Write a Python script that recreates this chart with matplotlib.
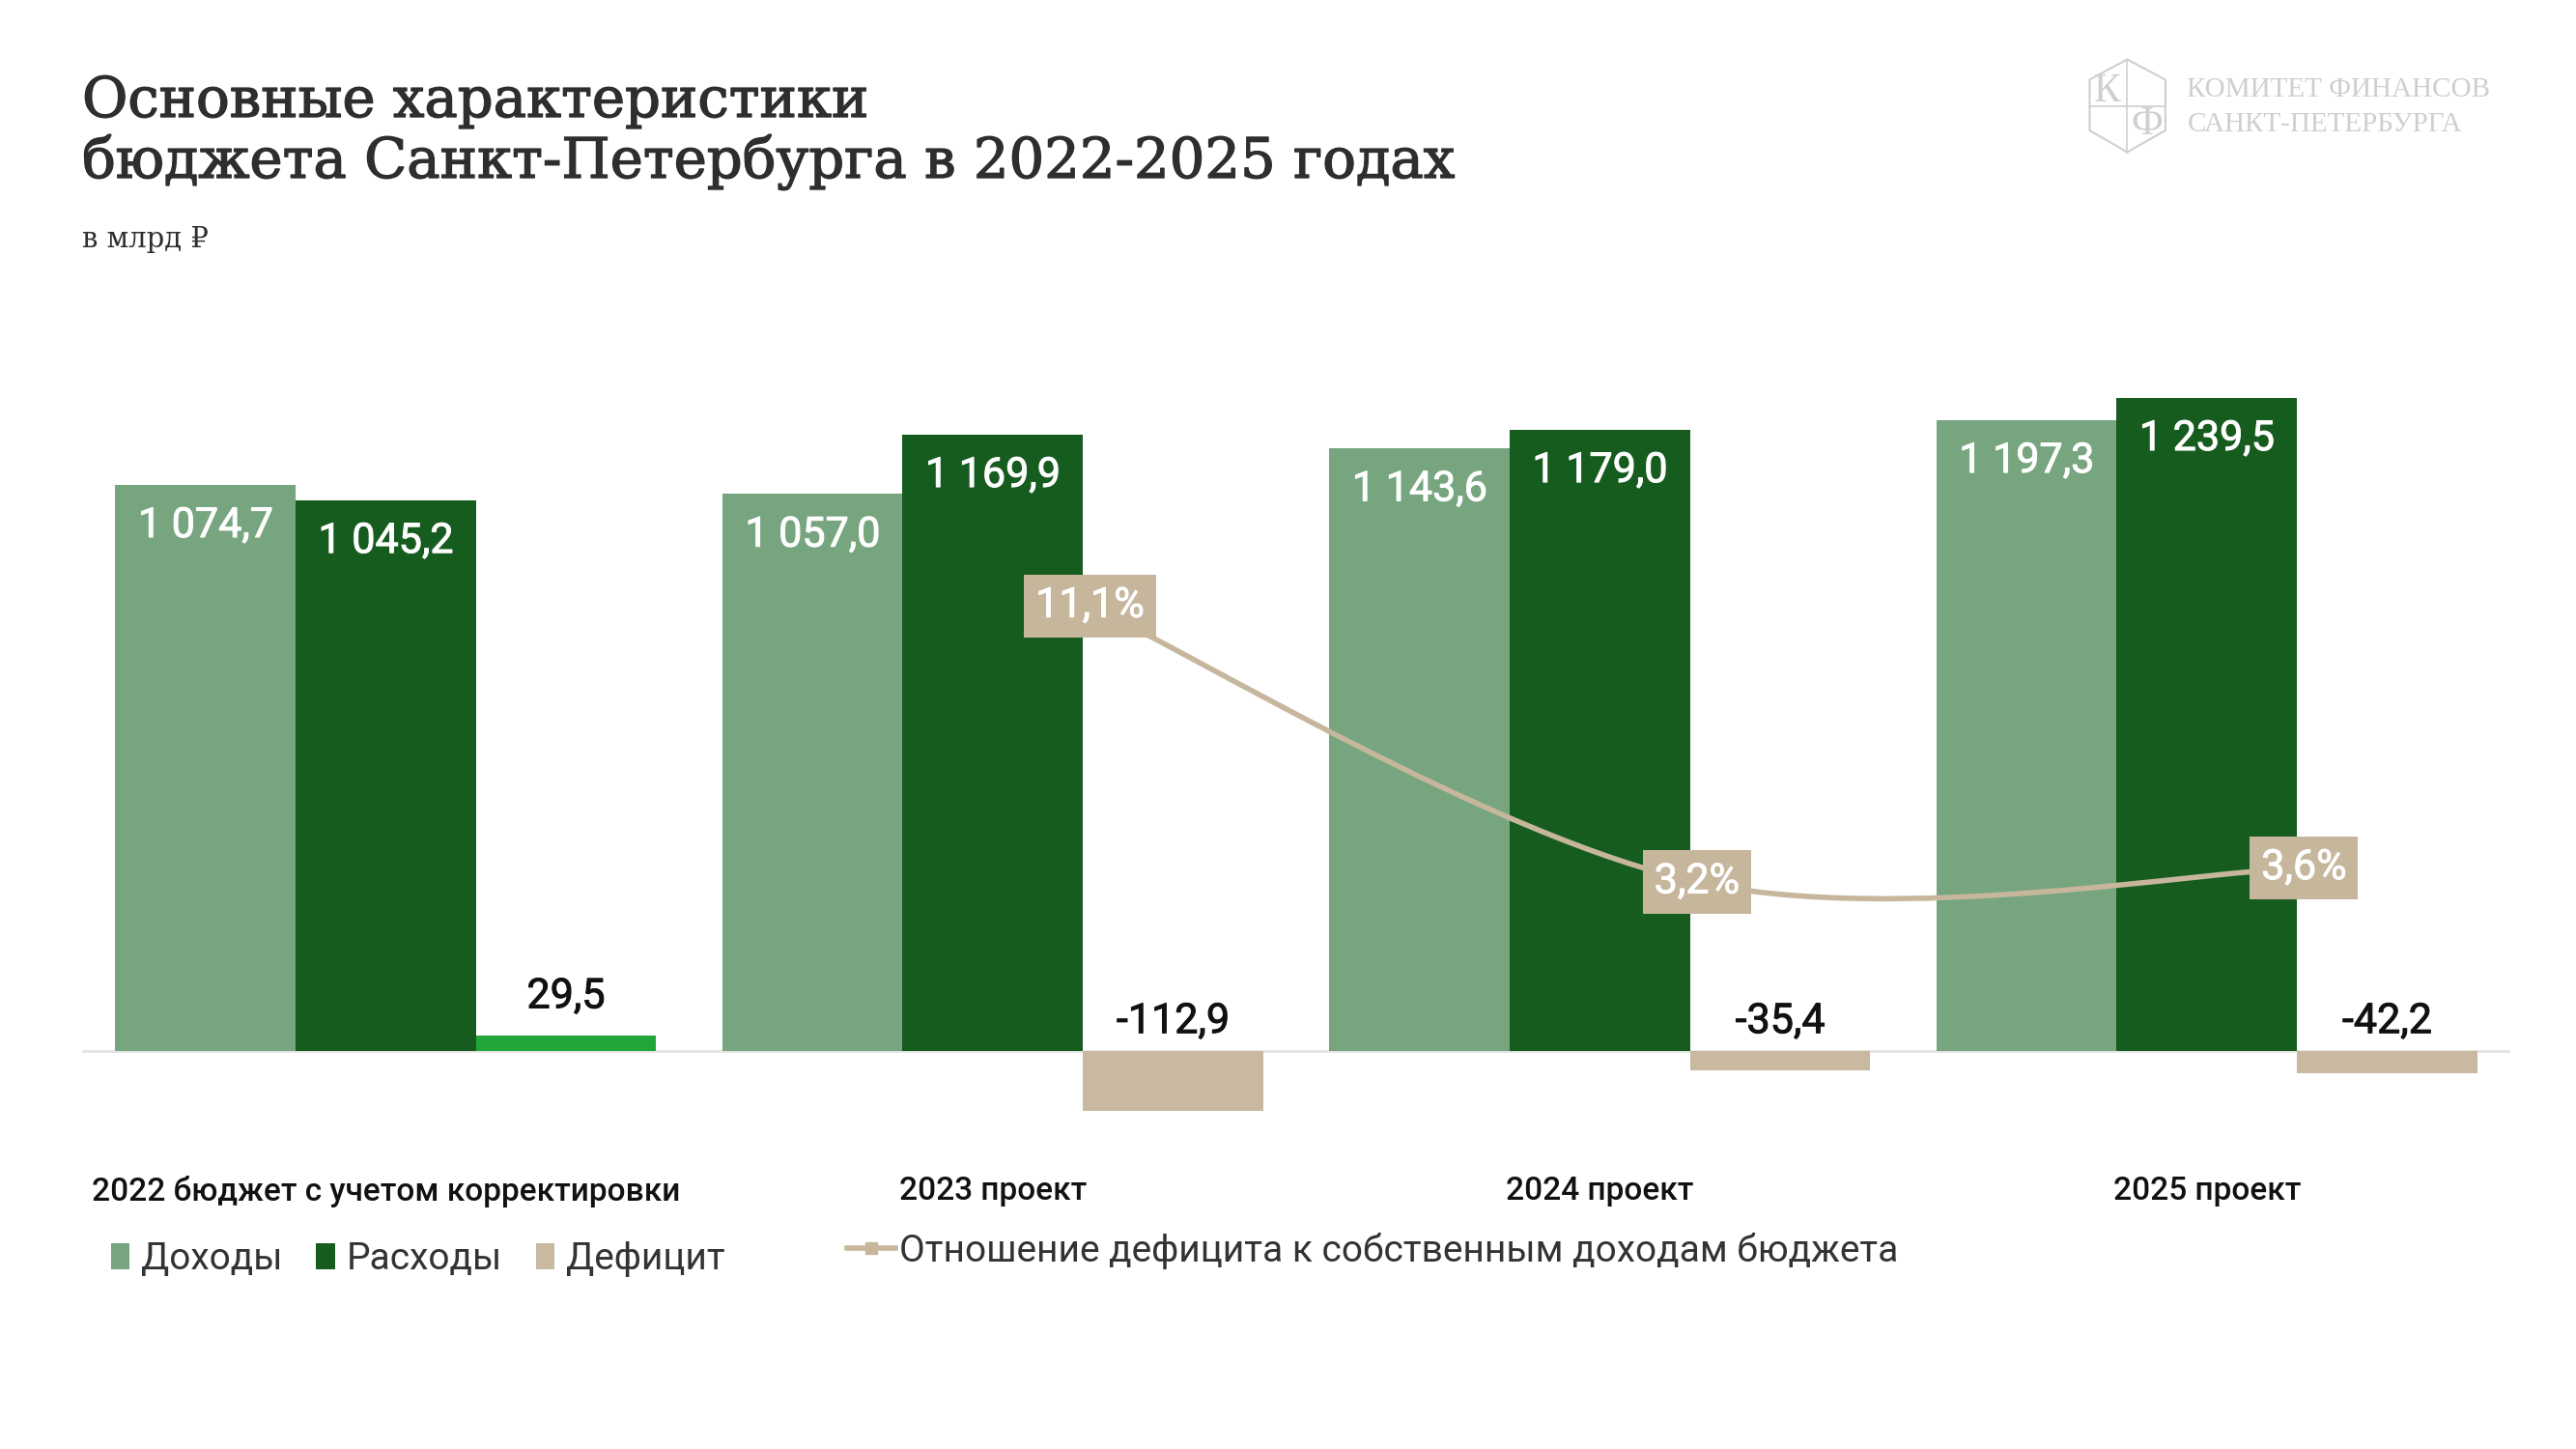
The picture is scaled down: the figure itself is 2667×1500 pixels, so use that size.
import matplotlib
matplotlib.use("Agg")
import matplotlib.pyplot as plt
import matplotlib.patheffects as pe
from matplotlib.patches import Patch, PathPatch, Polygon
from matplotlib.lines import Line2D
from matplotlib.path import Path
import numpy as np

# ---- data ----
categories = ["2022 бюджет с учетом корректировки", "2023 проект", "2024 проект", "2025 проект"]
income = [1074.7, 1057.0, 1143.6, 1197.3]
expense = [1045.2, 1169.9, 1179.0, 1239.5]
deficit = [29.5, -112.9, -35.4, -42.2]
ratio_idx = [1, 2, 3]
ratio = [11.1, 3.2, 3.6]
income_lbl = ["1 074,7", "1 057,0", "1 143,6", "1 197,3"]
expense_lbl = ["1 045,2", "1 169,9", "1 179,0", "1 239,5"]
deficit_lbl = ["29,5", "-112,9", "-35,4", "-42,2"]
ratio_lbl = ["11,1%", "3,2%", "3,6%"]

C_INC = "#76A57F"
C_EXP = "#165C1F"
C_DEF = "#C9B9A0"
C_POS = "#22A63A"
C_LINE = "#C6B69C"
C_TXT = "#333333"

SANS = ["Roboto", "DejaVu Sans"]
SERIF = ["DejaVu Serif", "DejaVu Sans"]

fig = plt.figure(figsize=(26.67, 15), dpi=100)
fig.patch.set_facecolor("white")
ax = fig.add_axes([0.0319, 0.2177, 0.9426, 0.5329])
ax2 = ax.twinx()

x = np.arange(len(categories))
w = 0.297
ax.bar(x - w, income, w, color=C_INC, zorder=2)
ax.bar(x, expense, w, color=C_EXP, zorder=2)
dcols = [C_POS if d > 0 else C_DEF for d in deficit]
ax.bar(x + w, deficit, w, color=dcols, zorder=2)
ax.axhline(0, color="#E3E3E3", lw=2, zorder=1)

ax.set_xlim(-0.5, 3.5)
ax.set_ylim(-155.8, 1308)
ax2.set_ylim(-4.0, 18.1)
for a in (ax, ax2):
    for s in a.spines.values():
        s.set_visible(False)
    a.set_yticks([])
ax.set_xticks([])

thick_w = [pe.withStroke(linewidth=0.7, foreground="white")]

# value labels
for i in range(len(categories)):
    ax.annotate(income_lbl[i], (x[i] - w, income[i]), xytext=(0, -31), textcoords="offset points",
                ha="center", va="center", color="white", fontsize=31, family=SANS, zorder=4,
                path_effects=thick_w)
    ax.annotate(expense_lbl[i], (x[i], expense[i]), xytext=(0, -31), textcoords="offset points",
                ha="center", va="center", color="white", fontsize=31, family=SANS, zorder=4,
                path_effects=thick_w)
    base = max(deficit[i], 0)
    off = 29 if deficit[i] > 0 else 22
    ax.annotate(deficit_lbl[i], (x[i] + w, base), xytext=(0, off), textcoords="offset points",
                ha="center", va="center", color="#111111", fontsize=31, family=SANS, zorder=4,
                path_effects=[pe.withStroke(linewidth=0.7, foreground="#111111")])
    ax.text(x[i], -0.075, categories[i], transform=ax.get_xaxis_transform(),
            ha="center", va="center", fontsize=24, fontweight="medium", color="#111111", family=SANS)

# smoothed ratio line via Bezier path (Catmull-Rom style control points)
px = [ratio_idx[k] + 0.16 for k in range(len(ratio))]
py = list(ratio)
P = list(zip(px, py))
verts = [P[0]]
codes = [Path.MOVETO]
n = len(P)
for k in range(n - 1):
    p0 = P[k - 1] if k > 0 else P[k]
    p1 = P[k]
    p2 = P[k + 1]
    p3 = P[k + 2] if k + 2 < n else P[k + 1]
    c1 = (p1[0] + (p2[0] - p0[0]) / 6, p1[1] + (p2[1] - p0[1]) / 6)
    c2 = (p2[0] - (p3[0] - p1[0]) / 6, p2[1] - (p3[1] - p1[1]) / 6)
    verts += [c1, c2, p2]
    codes += [Path.CURVE4] * 3
ax2.add_patch(PathPatch(Path(verts, codes), fill=False, edgecolor=C_LINE, lw=4, zorder=3))
for k in range(n):
    ax2.text(px[k], py[k], ratio_lbl[k], ha="center", va="center", color="white", fontsize=31,
             family=SANS, zorder=5, path_effects=thick_w,
             bbox=dict(boxstyle="square,pad=0.28", facecolor=C_LINE, edgecolor="none"))

# title
title_fx = [pe.withStroke(linewidth=1.0, foreground="#2E2E2E")]
fig.text(0.0319, 0.930, "Основные характеристики", fontsize=41.5, color="#2E2E2E", family=SERIF,
         va="center", path_effects=title_fx)
fig.text(0.0319, 0.888, "бюджета Санкт-Петербурга в 2022-2025 годах", fontsize=41.5, color="#2E2E2E",
         family=SERIF, va="center", path_effects=title_fx)
fig.text(0.0319, 0.835, "в млрд ₽", fontsize=21, color="#2E2E2E", family=SERIF, va="center")

# logo
LG = "#CFCFCF"
LSERIF = ["Liberation Serif", "DejaVu Serif"]
sx0, sx1, sxm = 0.8112, 0.8406, 0.8258
shield = Polygon([(sx0, 0.945), (sxm, 0.959), (sx1, 0.945), (sx1, 0.91), (sxm, 0.895), (sx0, 0.91)],
                 closed=True, fill=False, edgecolor=LG, lw=1.5, transform=fig.transFigure)
fig.add_artist(shield)
fig.add_artist(Line2D([sxm, sxm], [0.895, 0.959], color=LG, lw=1.2, transform=fig.transFigure))
fig.add_artist(Line2D([sx0, sx1], [0.927, 0.927], color=LG, lw=1.2, transform=fig.transFigure))
fig.text(0.8180, 0.937, "К", fontsize=30, color=LG, family=LSERIF, ha="center", va="center")
fig.text(0.8335, 0.914, "Ф", fontsize=30, color=LG, family=LSERIF, ha="center", va="center")
fig.text(0.849, 0.938, "КОМИТЕТ ФИНАНСОВ", fontsize=21, color=LG, family=LSERIF, va="center")
fig.text(0.849, 0.914, "САНКТ-ПЕТЕРБУРГА", fontsize=21, color=LG, family=LSERIF, va="center")

# legends
h1 = [Patch(facecolor=C_INC, label="Доходы"), Patch(facecolor=C_EXP, label="Расходы"),
      Patch(facecolor=C_DEF, label="Дефицит")]
leg1 = fig.legend(handles=h1, loc="center left", bbox_to_anchor=(0.0299, 0.131), ncol=3, frameon=False,
                  handlelength=0.5, handleheight=0.7, handletextpad=0.3, columnspacing=0.9,
                  prop={"family": SANS, "size": 28})
for t in leg1.get_texts():
    t.set_color(C_TXT)
h2 = [Line2D([0], [0], color=C_LINE, lw=4, marker="s", markersize=9,
             label="Отношение дефицита к собственным доходам бюджета")]
leg2 = fig.legend(handles=h2, loc="center left", bbox_to_anchor=(0.3156, 0.137), frameon=False,
                  handlelength=1.3, handletextpad=0.1, prop={"family": SANS, "size": 28})
for t in leg2.get_texts():
    t.set_color(C_TXT)

fig.savefig("out.png", dpi=100, facecolor="white")
